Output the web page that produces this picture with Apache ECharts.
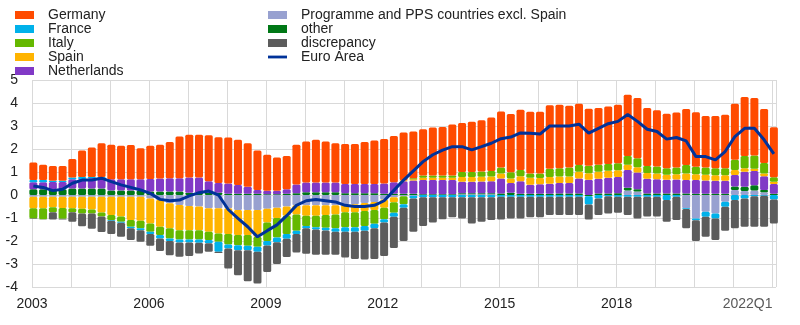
<!DOCTYPE html>
<html>
<head>
<meta charset="utf-8">
<script src="https://cdn.jsdelivr.net/npm/echarts@6/dist/echarts.min.js"></script>
<style>
  html, body { margin: 0; padding: 0; background: #fff; }
  #chart { width: 800px; height: 325px; }
</style>
</head>
<body>
<div id="chart"></div>
<script>
// Quarterly contributions (percentage points), 2003Q1 - 2022Q1
const quarters = [];
for (let y = 2003; y <= 2022; y++) {
  for (let q = 1; q <= 4; q++) {
    if (y < 2022 || q === 1) quarters.push(y + 'Q' + q);
  }
}

const germany = [
  0.76, 0.66, 0.64, 0.64,  0.81, 1.15, 1.28, 1.47,  1.50, 1.46, 1.49, 1.35,
  1.44, 1.46, 1.57, 1.81,  1.86, 1.86, 2.00, 1.99,  2.00, 1.96, 1.89, 1.71,
  1.57, 1.45, 1.45, 1.72,  1.79, 1.86, 1.79, 1.71,  1.74, 1.74, 1.82, 1.89,
  1.94, 2.02, 2.08, 2.03,  2.01, 2.08, 2.11, 2.21,  2.13, 2.18, 2.23, 2.33,
  2.43, 2.53, 2.62, 2.68,  2.68, 2.76, 2.76, 2.68,  2.67, 2.48, 2.47, 2.50,
  2.54, 2.66, 2.62, 2.52,  2.44, 2.37, 2.39, 2.44,  2.37, 2.24, 2.28, 2.33,
  2.44, 2.56, 2.50, 2.35,  2.18
];
const france = [
  0.10, 0.10, 0.05, 0.05,  0.08, 0.08, 0.05, 0.05,  -0.03, -0.05, -0.07, -0.08,
  -0.10, -0.15, -0.11, -0.13,  -0.13, -0.15, -0.14, -0.44,  -0.18, -0.22, -0.19, -0.22,
  -0.20, -0.20, -0.20, -0.15,  -0.10, -0.10, -0.12, -0.15,  -0.20, -0.20, -0.20, -0.20,
  -0.15, -0.18, -0.15, -0.12,  -0.10, -0.10, -0.10, -0.10,  -0.10, -0.10, -0.10, -0.10,
  -0.08, -0.08, -0.08, -0.08,  -0.08, -0.08, -0.08, -0.08,  -0.08, -0.36, -0.15, -0.05,
  -0.08, -0.08, -0.08, -0.08,  -0.08, -0.22, -0.08, -0.03,  -0.08, -0.22, -0.22, -0.22,
  -0.22, -0.15, -0.05, -0.03,  -0.20
];
const italy = [
  -0.44, -0.47, -0.22, -0.47,  -0.17, -0.20, -0.17, -0.17,  -0.22, -0.22, -0.29, -0.33,
  -0.36, -0.36, -0.44, -0.40,  -0.40, -0.40, -0.36, -0.36,  -0.45, -0.44, -0.47, -0.44,
  -0.80, -0.85, -0.80, -0.70,  -0.45, -0.50, -0.55, -0.60,  -0.65, -0.65, -0.65, -0.60,
  -0.50, -0.45, -0.35, 0.04,  0.10, 0.10, 0.10, 0.10,  0.22, 0.22, 0.23, 0.24,
  0.26, 0.27, 0.27, 0.19,  0.20, 0.36, 0.36, 0.40,  0.29, 0.32, 0.30, 0.30,
  0.30, 0.39, 0.39, 0.30,  0.30, 0.28, 0.30, 0.36,  0.33, 0.32, 0.30, 0.30,
  0.44, 0.54, 0.58, 0.45,  0.19
];
const spain = [
  -0.50, -0.50, -0.45, -0.48,  -0.50, -0.52, -0.55, -0.68,  -0.79, -0.86, -1.01, -1.04,
  -1.09, -1.16, -1.09, -1.09,  -1.05, -1.03, -1.02, -1.09,  -1.12, -1.09, -1.09, -1.16,
  -0.60, -0.45, -0.40, -0.40,  -0.45, -0.45, -0.42, -0.40,  -0.35, -0.35, -0.35, -0.35,
  -0.35, -0.22, 0.04, 0.06,  0.10, 0.10, 0.10, 0.10,  0.20, 0.20, 0.20, 0.20,
  0.22, 0.20, 0.22, 0.30,  0.27, 0.29, 0.28, 0.28,  0.29, 0.29, 0.30, 0.30,
  0.30, 0.22, 0.23, 0.25,  0.25, 0.22, 0.23, 0.29,  0.25, 0.25, 0.24, 0.24,
  0.22, 0.15, 0.10, 0.12,  0.10
];
const netherlands = [
  0.30, 0.30, 0.32, 0.32,  0.40, 0.42, 0.45, 0.45,  0.48, 0.48, 0.48, 0.48,
  0.55, 0.57, 0.58, 0.58,  0.66, 0.66, 0.50, 0.42,  0.45, 0.39, 0.31, 0.17,
  0.15, 0.15, 0.20, 0.38,  0.42, 0.42, 0.42, 0.42,  0.40, 0.40, 0.40, 0.40,
  0.45, 0.50, 0.55, 0.58,  0.62, 0.62, 0.62, 0.62,  0.50, 0.50, 0.51, 0.52,
  0.65, 0.42, 0.55, 0.40,  0.42, 0.44, 0.45, 0.45,  0.65, 0.66, 0.64, 0.68,
  0.70, 0.77, 0.73, 0.64,  0.62, 0.60, 0.61, 0.58,  0.60, 0.58, 0.57, 0.57,
  0.50, 0.65, 0.62, 0.60,  0.43
];
const programme = [
  -0.08, -0.08, -0.08, -0.08,  -0.08, -0.08, -0.08, -0.08,  -0.08, -0.08, -0.08, -0.08,
  -0.15, -0.22, -0.36, -0.44,  -0.48, -0.50, -0.58, -0.58,  -0.58, -0.65, -0.65, -0.65,
  -0.60, -0.55, -0.50, -0.45,  -0.45, -0.45, -0.45, -0.45,  -0.40, -0.40, -0.35, -0.30,
  -0.20, -0.10, -0.05, -0.03,  0.00, 0.00, 0.00, 0.00,  0.03, 0.03, 0.03, 0.03,
  0.00, 0.00, 0.00, 0.00,  0.00, 0.00, 0.00, 0.00,  0.00, 0.00, 0.00, 0.00,
  0.00, 0.20, 0.15, 0.00,  0.00, 0.00, 0.00, -0.58,  -1.02, -0.73, -0.80, -0.29,
  0.22, 0.17, 0.20, 0.12,  0.00
];
const other = [
  0.25, 0.25, 0.25, 0.25,  0.28, 0.28, 0.28, 0.28,  0.20, 0.20, 0.20, 0.20,
  0.15, 0.15, 0.15, 0.15,  0.10, 0.10, 0.10, 0.10,  0.05, 0.05, 0.05, 0.05,
  0.03, 0.03, 0.05, 0.08,  0.12, 0.12, 0.12, 0.12,  0.08, 0.08, 0.08, 0.08,
  0.05, 0.05, 0.05, 0.05,  0.03, 0.03, 0.03, 0.03,  0.05, 0.05, 0.05, 0.05,
  0.07, 0.10, 0.05, 0.05,  0.05, 0.05, 0.07, 0.07,  0.07, -0.05, 0.07, 0.07,
  0.08, 0.12, 0.10, 0.07,  0.07, 0.06, 0.06, 0.07,  0.05, 0.05, 0.05, 0.05,
  0.15, 0.19, 0.22, 0.10,  0.05
];
const discrepancy = [
  -0.02, -0.02, -0.32, -0.03,  -0.41, -0.56, -0.67, -0.68,  -0.58, -0.61, -0.51, -0.50,
  -0.51, -0.54, -0.62, -0.63,  -0.59, -0.46, -0.37, -0.05,  -0.87, -1.09, -1.35, -1.38,
  -1.15, -0.95, -0.80, -0.80,  -1.10, -1.10, -1.06, -1.00,  -1.12, -1.18, -1.25, -1.33,
  -1.45, -1.35, -1.45, -1.45,  -1.25, -1.10, -0.95, -0.87,  -0.92, -1.14, -1.06, -0.99,
  -0.98, -0.94, -0.94, -0.89,  -0.89, -0.79, -0.79, -0.79,  -0.79, -0.65, -0.72, -0.75,
  -0.69, -0.79, -0.94, -0.86,  -0.86, -0.94, -1.01, -0.84,  -0.90, -0.87, -0.94, -1.04,
  -1.23, -1.23, -1.33, -1.35,  -1.04
];
const euroArea = [
  0.39, 0.33, 0.19, 0.25,  0.51, 0.65, 0.65, 0.73,  0.58, 0.44, 0.33, 0.22,
  0.07, -0.19, -0.25, -0.22,  -0.04, 0.10, 0.17, 0.00,  -0.63, -1.02, -1.38, -1.82,
  -1.55, -1.30, -0.90, -0.45,  -0.25, -0.20, -0.25, -0.30,  -0.45, -0.50, -0.50, -0.45,
  -0.25, 0.20, 0.65, 1.05,  1.45, 1.75, 1.95, 2.10,  2.10, 1.96, 2.10, 2.25,
  2.45, 2.52, 2.70, 2.68,  2.65, 3.00, 3.00, 3.00,  3.08, 2.69, 2.90, 3.10,
  3.20, 3.50, 3.20, 2.86,  2.76, 2.43, 2.50, 2.35,  1.67, 1.67, 1.53, 1.89,
  2.54, 2.90, 2.90, 2.40,  1.79
];

const yearLabels = [2003, 2006, 2009, 2012, 2015, 2018];
const lastLabel = '2022Q1';

// Position of a quarter on the time axis (bars sit just after the quarter start)
const BAR_SHIFT = 0.035;
function quarterPos(label) {
  const y = +label.slice(0, 4);
  const q = +label.slice(5);
  return y + (q - 1) / 4 + BAR_SHIFT;
}
const xs = quarters.map(quarterPos);
// value first, position second: the first numeric dimension is the one that gets stacked
const pairs = arr => arr.map((v, i) => [v, xs[i]]);
const ENCODE = { x: 1, y: 0 };

const FONT = '"Liberation Sans", Arial, sans-serif';
const TEXT = '#222';
const GRID = '#d9d9d9';

const barSeries = [
  // stacking order from zero outward
  { name: 'Programme and PPS countries excl. Spain', data: programme, color: '#98A1D0' },
  { name: 'other', data: other, color: '#007816' },
  { name: 'Netherlands', data: netherlands, color: '#8139C6' },
  { name: 'Spain', data: spain, color: '#FFB400' },
  { name: 'Italy', data: italy, color: '#65B800' },
  { name: 'France', data: france, color: '#00B1EA' },
  { name: 'Germany', data: germany, color: '#FF4B00' },
  { name: 'discrepancy', data: discrepancy, color: '#5C5C5C' }
].map(s => ({
  name: s.name,
  type: 'bar',
  stack: 'total',
  barWidth: 8,
  clip: true,
  encode: ENCODE,
  itemStyle: { color: s.color, borderRadius: 1.5 },
  emphasis: { disabled: true },
  data: pairs(s.data)
}));

const lineSeries = {
  name: 'Euro Area',
  type: 'line',
  z: 5,
  symbol: 'none',
  clip: true,
  encode: ENCODE,
  color: '#003299',
  lineStyle: { color: '#003299', width: 3 },
  data: pairs(euroArea)
};

const legendText = {
  fontFamily: FONT, fontSize: 14, lineHeight: 14, color: TEXT, padding: [0, 0, 0, 9]
};
// thin horizontal bar inside a 19x8 box, used as the line's legend key
const LINE_ICON = 'path://M0,0 M19,8 M0,2.6 L19,2.6 L19,5.4 L0,5.4 Z';

const chart = echarts.init(document.getElementById('chart'), null, { renderer: 'canvas' });
chart.setOption({
  animation: false,
  backgroundColor: '#fff',
  textStyle: { fontFamily: FONT },
  legend: [
    {
      left: 10, top: 3, orient: 'vertical', itemWidth: 19, itemHeight: 8, itemGap: 0,
      icon: 'rect', selectedMode: false, textStyle: legendText,
      data: ['Germany', 'France', 'Italy', 'Spain', 'Netherlands']
    },
    {
      left: 263, top: 3, orient: 'vertical', itemWidth: 19, itemHeight: 8, itemGap: 0,
      selectedMode: false, textStyle: legendText,
      data: [
        { name: 'Programme and PPS countries excl. Spain', icon: 'rect' },
        { name: 'other', icon: 'rect' },
        { name: 'discrepancy', icon: 'rect' },
        { name: 'Euro Area', icon: LINE_ICON }
      ]
    }
  ],
  grid: { left: 32, right: 24, top: 80, bottom: 38, containLabel: false },
  xAxis: [
    {
      type: 'value', min: 2003, max: 2022.09, interval: 1,
      axisLine: { show: false }, axisTick: { show: false },
      splitLine: { show: true, lineStyle: { color: GRID, width: 1 } },
      axisLabel: {
        margin: 10, fontSize: 14, color: TEXT, fontFamily: FONT,
        showMaxLabel: false,
        formatter: v => (yearLabels.indexOf(v) >= 0 ? String(v) : '')
      }
    },
    {
      type: 'value', min: 2003, max: 2022.09, interval: 1, position: 'bottom',
      axisLine: { show: false }, axisTick: { show: false }, splitLine: { show: false },
      axisLabel: {
        margin: 10, fontSize: 14, color: '#595959', fontFamily: FONT, align: 'right',
        showMaxLabel: false,
        formatter: v => (v === 2022 ? lastLabel : '')
      }
    }
  ],
  yAxis: {
    type: 'value', min: -4, max: 5, interval: 1,
    axisLine: { show: false }, axisTick: { show: false },
    splitLine: { show: true, lineStyle: { color: GRID, width: 1 } },
    axisLabel: { margin: 14, fontSize: 14, color: TEXT, fontFamily: FONT }
  },
  series: [...barSeries, lineSeries]
});
</script>
</body>
</html>
